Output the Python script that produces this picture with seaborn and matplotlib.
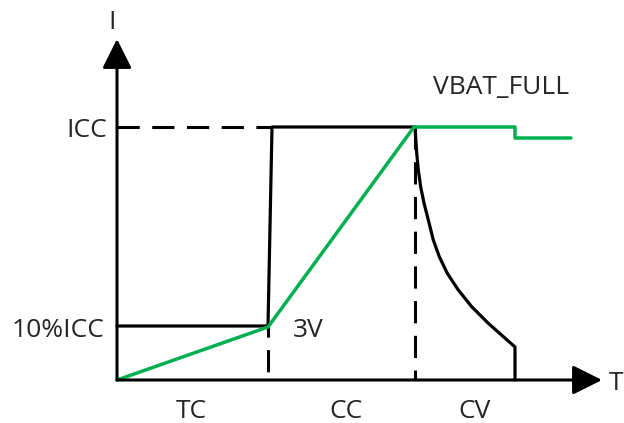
import matplotlib
matplotlib.use("Agg")
import matplotlib.pyplot as plt
import seaborn as sns
import pandas as pd

# ---- data (abstract units: T along x, I along y) ----
ICC = 253
ICC10 = 54
T_TC_END_LOW = 151
T_TC_END_HIGH = 155
T_CV_START = 298
T_END = 398

# black: charge current
current_t = [0, 151, 155, 298, 299.7, 301.3, 303.7, 307, 311.3, 316.3, 322.3,
             330.3, 341.3, 354.7, 371.3, 398, 398]
current_i = [54, 54, 253, 253, 227, 210, 193, 177, 160, 140, 123.3,
             106.7, 90, 73.3, 56.7, 33, 0]

# green: battery voltage
voltage_t = [0, 151, 297, 398, 398, 454]
voltage_i = [0, 53, 253, 253, 242, 242]

phase_labels = ["TC", "CC", "CV"]
phase_centers = [74.5, 229, 357.5]

X_ARROW_END = 485
Y_ARROW_END = 341

GREEN = "#00B050"
BLACK = "#000000"

sns.set_theme(style="white")
plt.rcParams["font.family"] = ["Open Sans", "DejaVu Sans"]
plt.rcParams["lines.scale_dashes"] = False

fig = plt.figure(figsize=(6.24, 4.23), dpi=100)
ax = fig.add_axes([0, 0, 1, 1])
ax.set_xlim(-117, 507)
ax.set_ylim(-43, 380)
ax.axis("off")

# dashed guide lines
sns.lineplot(x=[0, T_TC_END_HIGH], y=[ICC, ICC], ax=ax, color=BLACK, lw=2.2,
             linestyle=(0, (16, 9)), sort=False, estimator=None)
sns.lineplot(x=[T_CV_START, T_CV_START], y=[ICC, 0], ax=ax, color=BLACK, lw=2.2,
             linestyle=(0, (16, 9)), sort=False, estimator=None)
sns.lineplot(x=[T_TC_END_LOW, T_TC_END_LOW], y=[ICC10, 0], ax=ax, color=BLACK, lw=2.2,
             linestyle=(0, (8, 9, 16, 9)), sort=False, estimator=None)

# curves
cur = pd.DataFrame({"T": current_t, "I": current_i})
vol = pd.DataFrame({"T": voltage_t, "I": voltage_i})
sns.lineplot(data=cur, x="T", y="I", ax=ax, color=BLACK, lw=2.3, sort=False,
             estimator=None)
sns.lineplot(data=vol, x="T", y="I", ax=ax, color=GREEN, lw=2.5, sort=False,
             estimator=None)

# axes with arrows
arrow = dict(arrowstyle="-|>,head_length=1.0,head_width=0.5", lw=2.2,
             color=BLACK, mutation_scale=18, shrinkA=0, shrinkB=0)
ax.annotate("", xy=(X_ARROW_END, 0), xytext=(0, 0), arrowprops=arrow)
ax.annotate("", xy=(0, Y_ARROW_END), xytext=(0, 0), arrowprops=arrow)

fs = 19
ax.text(-4.5, 351, "I", fontsize=fs, ha="center", va="baseline")
ax.text(492, -9.5, "T", fontsize=fs, ha="left", va="baseline")
ax.text(-10, 243, "ICC", fontsize=fs, ha="right", va="baseline")
ax.text(-13, 43, "10%ICC", fontsize=fs, ha="right", va="baseline")
ax.text(176, 43, "3V", fontsize=fs, ha="left", va="baseline")
ax.text(316, 286, "VBAT_FULL", fontsize=fs, ha="left", va="baseline")
for lab, c in zip(phase_labels, phase_centers):
    ax.text(c, -38, lab, fontsize=fs, ha="center", va="baseline")

fig.savefig("out.png", dpi=100)
